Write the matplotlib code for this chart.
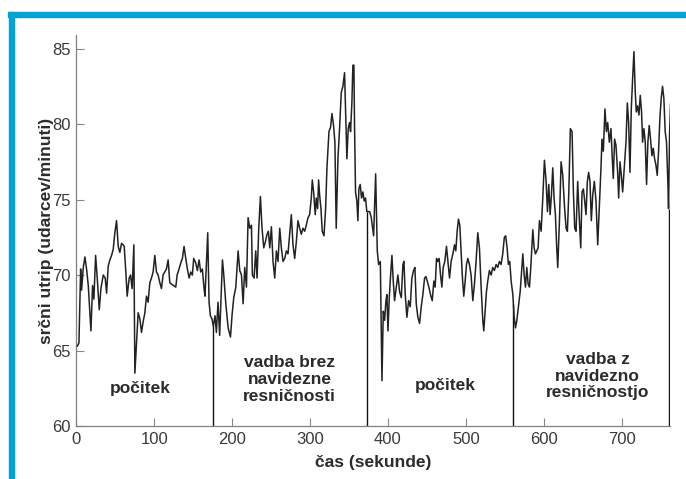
import numpy as np
import matplotlib
matplotlib.use("Agg")
import matplotlib.pyplot as plt
from matplotlib.patches import Rectangle

# Heart rate during rest / exercise phases
time_s = [
    1.5, 3.4, 5.6, 6.8, 9.0, 11.1, 13.2, 15.4, 17.5, 18.8, 20.9, 22.6, 24.8, 26.9, 29.5,
    31.6, 34.6, 37.1, 38.9, 41.0, 43.1, 45.3, 47.4, 49.5, 51.7, 53.8, 55.9, 58.1, 60.2,
    61.5, 63.6, 65.3, 67.9, 69.6, 71.7, 73.9, 75.2, 79.4, 81.6, 83.7, 85.8, 88.0, 90.1,
    92.2, 94.4, 96.5, 98.6, 100.8, 102.9, 105.0, 107.2, 109.3, 111.4, 113.6, 115.7, 117.9,
    120.0, 122.1, 125.1, 127.7, 129.4, 131.9, 134.1, 136.2, 138.3, 140.5, 142.6, 144.8,
    146.9, 149.0, 150.7, 153.3, 155.4, 157.6, 159.7, 161.8, 164.0, 165.2, 166.9, 168.7,
    170.4, 172.1, 174.2, 175.9, 178.1, 179.8, 181.9, 184.0,
    187.6, 189.3, 191.9, 194.9, 197.9, 200.0, 202.1, 204.7, 207.7, 209.8, 212.0, 214.1,
    216.2, 218.4, 220.5, 222.6, 224.8, 226.0, 228.2, 230.3, 232.0, 234.2, 236.3, 238.4,
    240.6, 242.7, 244.8, 246.5, 248.3, 250.4, 252.5, 254.7, 256.8, 258.9, 261.1, 263.2,
    265.3, 267.5, 269.6, 271.7, 273.9, 276.0, 278.1, 280.3, 282.4, 284.5, 286.7, 288.8,
    290.9, 293.1, 295.2, 297.4, 299.5, 301.6, 302.9, 304.6, 306.7, 308.0, 309.7, 311.0,
    312.3, 314.0, 315.7, 317.9, 320.0, 321.7, 324.3, 326.4, 328.1, 330.2, 331.9, 333.6,
    335.8, 337.9, 340.1, 342.2, 344.3, 345.6, 347.3, 349.0, 350.7, 352.0, 353.7, 355.0,
    356.3, 357.1, 358.4, 360.1, 361.4, 362.7, 364.4, 366.1, 367.8, 369.5, 371.2, 372.9,
    374.4, 376.5, 378.6, 381.6, 384.2, 386.3, 388.0, 390.2, 392.3, 394.0, 395.7, 397.4,
    398.7, 400.0, 401.7, 403.4, 405.1, 406.8, 408.5, 410.7, 412.8, 414.9, 417.1, 419.2,
    420.5, 422.2, 424.3, 426.5, 428.6, 430.7, 432.9, 434.6, 436.3, 438.4, 440.6, 442.7,
    444.8, 447.0, 448.7, 450.4, 452.5, 454.6, 456.8, 458.9, 460.6, 462.3, 464.0, 465.7,
    467.5, 469.2, 470.9, 473.0, 475.1, 476.9, 479.0, 481.1, 483.3, 485.4, 487.1, 488.8,
    490.5, 492.2, 493.9, 495.6, 497.3, 499.1, 500.8, 502.5, 504.6, 506.7, 508.9, 511.0,
    513.1, 515.3, 517.4, 519.6, 521.7, 523.0, 524.7, 526.4, 528.1, 530.2, 532.4, 534.5,
    536.6, 538.8, 540.9, 543.0, 545.2, 547.3, 549.4, 551.1, 552.9, 554.6, 556.3,
    558.1, 560.3, 562.0, 563.7, 565.4, 567.5, 569.7, 571.8, 573.1, 574.8, 576.5, 578.2,
    579.9, 581.6, 583.3, 585.0, 585.9, 587.6, 589.3, 591.0, 592.7, 594.4, 596.6, 598.7,
    600.8, 603.0, 604.7, 606.4, 608.1, 609.8, 611.5, 613.2, 614.9, 616.6, 617.9, 620.1,
    622.2, 624.3, 626.5, 628.6, 630.3, 632.0, 634.1, 636.3, 638.0, 639.7, 641.4, 643.5,
    645.7, 647.4, 649.1, 650.8, 652.5, 654.2, 655.9, 657.6, 659.3, 661.0, 662.8, 664.9,
    667.0, 669.2, 671.3, 673.4, 674.7, 676.4, 678.5, 680.3, 682.0, 684.1, 686.2, 687.9,
    689.2, 690.9, 692.6, 694.8, 696.1, 697.8, 699.5, 701.2, 703.3, 705.5, 707.2, 708.9,
    710.6, 712.3, 714.0, 715.7, 717.4, 718.7, 720.4, 722.1, 723.8, 725.5, 726.8, 728.5,
    730.2, 731.9, 733.6, 735.3, 737.0, 738.8, 740.5, 742.2, 743.9, 745.6, 747.3, 749.0,
    750.7, 752.4, 754.1, 755.8, 757.5, 759.3, 760.1, 761.4, 762.7,
]
heart_rate = [
    65.3, 65.5, 70.4, 69.0, 70.5, 71.2, 70.4, 69.3, 67.5, 66.3, 69.3, 68.4, 71.3, 69.8, 67.7,
    69.1, 70.0, 69.8, 68.8, 70.6, 71.0, 71.3, 71.7, 72.8, 73.6, 71.9, 71.5, 72.1, 72.0,
    71.9, 70.2, 68.6, 69.8, 70.0, 69.1, 72.0, 63.5, 67.5, 67.1, 66.2, 66.9, 67.5, 68.6,
    68.2, 69.5, 69.8, 70.2, 71.3, 70.2, 70.0, 69.5, 69.1, 70.0, 70.2, 70.4, 71.0,
    69.5, 69.4, 69.3, 69.2, 70.0, 70.4, 70.8, 71.1, 71.9, 71.1, 70.4, 69.8,
    70.2, 70.0, 71.1, 70.8, 70.3, 71.0, 70.2, 70.4, 69.1, 68.6, 70.6, 72.8,
    68.2, 67.3, 67.1, 66.6, 67.3, 66.2, 68.2, 66.0,
    71.0, 70.0, 68.1, 66.5, 65.9, 67.4, 68.5, 69.2, 71.6, 70.3, 70.0, 68.1,
    70.5, 69.2, 73.8, 73.1, 73.3, 70.0, 69.8, 71.6, 69.8, 73.1, 75.2, 73.1,
    71.8, 72.2, 72.7, 72.9, 71.8, 73.2, 70.9, 69.8, 71.6, 70.9, 73.1, 71.8,
    70.9, 71.1, 71.6, 71.4, 72.7, 74.0, 72.0, 71.1, 72.2, 73.6, 73.1, 72.7,
    73.1, 72.9, 73.3, 73.8, 74.0, 75.1, 76.3, 75.5, 74.0, 75.1, 74.4, 76.3,
    75.3, 74.4, 72.9, 72.6, 74.4, 77.1, 79.5, 79.8, 80.7, 79.9, 78.8, 73.1,
    77.7, 79.7, 82.1, 82.5, 83.4, 81.0, 77.7, 79.7, 80.1, 79.5, 81.4, 83.9,
    83.9, 79.9, 75.5, 74.9, 73.6, 75.7, 76.0, 75.1, 75.5, 74.9, 75.1, 74.2,
    74.2, 74.2, 73.8, 72.6, 76.7, 71.6, 70.7, 70.9, 63.0, 67.6, 67.0, 68.3,
    68.7, 66.3, 68.5, 70.0, 71.3, 69.6, 68.3, 69.2, 70.0, 68.9, 68.5, 70.7,
    70.9, 68.7, 67.2, 68.3, 67.9, 69.8, 70.3, 70.5, 68.1, 67.2, 66.8, 67.9,
    68.7, 69.8, 69.9, 69.6, 69.2, 68.7, 68.3, 69.6, 69.2, 71.1, 70.9, 71.1,
    70.0, 69.2, 70.5, 70.9, 71.9, 70.9, 69.8, 70.9, 71.4, 72.0, 71.6, 72.9,
    73.7, 73.3, 71.6, 69.8, 68.6, 69.6, 70.7, 71.1, 70.7, 70.0, 68.3, 69.4,
    70.9, 72.8, 71.8, 69.2, 67.0, 66.3, 67.6, 68.9, 69.6, 70.3, 70.0, 70.5,
    70.3, 70.7, 70.5, 70.9, 70.7, 71.4, 72.5, 72.6, 71.8, 70.7, 70.9,
    69.6, 68.7, 67.2, 66.5, 67.0, 67.9, 68.9, 70.5, 71.4, 70.0, 69.2, 70.5,
    69.4, 69.2, 70.5, 72.2, 73.0, 71.8, 71.4, 71.6, 71.8, 73.6, 72.9, 75.1,
    77.6, 76.2, 74.2, 76.0, 74.0, 75.3, 77.1, 75.1, 74.0, 71.8, 70.5, 73.6,
    77.5, 76.6, 74.6, 73.1, 72.9, 75.3, 79.7, 79.5, 75.5, 73.1, 72.9, 76.2,
    73.6, 71.8, 75.5, 75.7, 74.9, 74.0, 76.2, 76.8, 76.2, 73.6, 75.3, 76.2,
    74.9, 72.0, 74.6, 77.1, 79.0, 78.2, 81.0, 79.5, 80.1, 78.8, 79.7, 77.7,
    76.4, 79.0, 78.6, 76.8, 75.1, 77.5, 76.6, 75.5, 77.1, 78.8, 81.4, 80.1,
    76.8, 81.0, 83.0, 84.8, 82.1, 80.8, 81.2, 80.6, 81.9, 80.8, 78.8, 79.7,
    78.8, 76.0, 78.8, 79.9, 79.0, 77.9, 78.4, 77.7, 77.3, 76.6, 78.2, 80.4,
    81.7, 82.5, 81.7, 79.5, 78.8, 76.0, 74.4, 79.3, 81.3,
]

# Phase boundaries (s) and phase names
phase_ends = [175.5, 373.0, 561.0, 760.1]
phase_labels = ["počitek", "vadba brez\nnavidezne\nresničnosti",
                "počitek", "vadba z\nnavidezno\nresničnostjo"]
label_x = [82, 274, 474, 669]
label_y = [62.5, 63.1, 62.7, 63.3]

x_ticks = [0, 100, 200, 300, 400, 500, 600, 700]
y_ticks = [60, 65, 70, 75, 80, 85]

plt.rcParams['font.family'] = ['Liberation Sans', 'DejaVu Sans']

fig = plt.figure(figsize=(6.86, 4.79), dpi=100)
ax = fig.add_axes([0.1112, 0.1106, 0.8655, 0.8164])

ax.plot(time_s, heart_rate, color='#222222', lw=1.1, zorder=3)

bounds_val = np.interp(phase_ends, time_s, heart_rate)
ax.vlines(phase_ends, 60, bounds_val, color='#111111', lw=1.0, zorder=2)

for x, y, s in zip(label_x, label_y, phase_labels):
    ax.text(x, y, s, ha='center', va='center', fontsize=12.5, fontweight='bold',
            color='#2b2b2b', linespacing=1.15)

ax.set_xlim(0, 762)
ax.set_ylim(60, 85.9)
ax.set_xticks(x_ticks)
ax.set_yticks(y_ticks)
ax.tick_params(direction='in', length=6, width=0.8, color='#888888',
               labelsize=12, labelcolor='#3a3a3a', pad=4)

for side in ('top', 'right'):
    ax.spines[side].set_visible(False)
for side in ('left', 'bottom'):
    ax.spines[side].set_color('#808080')
    ax.spines[side].set_linewidth(0.9)

ax.set_xlabel('čas (sekunde)', fontsize=12.5, fontweight='bold', color='#2b2b2b', labelpad=6)
ax.set_ylabel('srčni utrip (udarcev/minuti)', fontsize=12.5, fontweight='bold',
              color='#2b2b2b', labelpad=-1)

# Blue frame along top and left edge
frame_col = '#00a3d1'
fig.patches.append(Rectangle((8 / 686, 1 - 17 / 479), 1 - 8 / 686, 5 / 479,
                             transform=fig.transFigure, color=frame_col, zorder=10))
fig.patches.append(Rectangle((9 / 686, 0), 5 / 686, 1 - 12 / 479,
                             transform=fig.transFigure, color=frame_col, zorder=10))

fig.savefig('out.png', dpi=100)
